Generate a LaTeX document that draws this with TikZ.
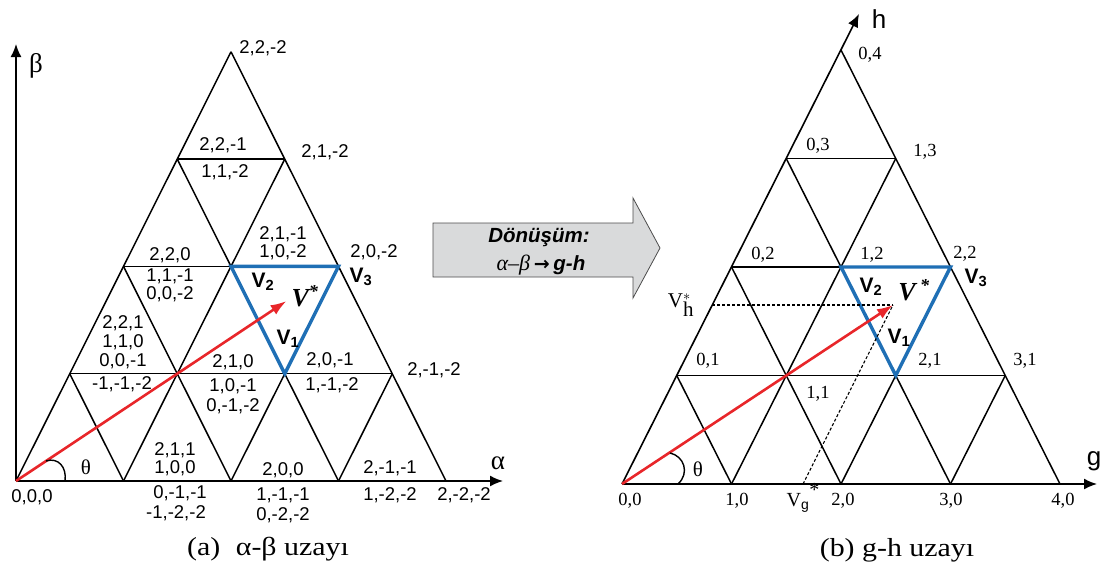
\documentclass[tikz,border=0pt]{standalone}
\usepackage{fontspec}
\setmainfont{Liberation Serif}
\newfontfamily\lsans{Liberation Sans}
\newfontfamily\capfont[FakeStretch=1.15]{Liberation Serif}
\newfontfamily\arrfont{DejaVu Sans}
\usetikzlibrary{arrows.meta}
\definecolor{vblue}{RGB}{31,111,181}
\definecolor{vred}{RGB}{232,38,42}
\definecolor{boxgray}{RGB}{217,218,219}
\tikzset{
  grid/.style={line width=1.5pt, black},
  axisline/.style={line width=1.6pt, black, -{Latex[length=13pt,width=11pt]}},
  lab/.style={font=\lsans\fontsize{18.5}{18.5}\selectfont, inner sep=0pt},
  rlab/.style={font=\fontsize{18.5}{18.5}\selectfont, inner sep=0pt},
  vlab/.style={font=\lsans\bfseries\fontsize{21}{21}\selectfont, inner sep=0pt},
  vstar/.style={font=\bfseries\itshape\fontsize{26}{26}\selectfont, inner sep=0pt},
  greek/.style={font=\fontsize{27}{27}\selectfont, inner sep=0pt},
  axlab/.style={font=\lsans\fontsize{26}{26}\selectfont, inner sep=0pt},
  thlab/.style={font=\fontsize{21}{21}\selectfont, inner sep=0pt},
  caption/.style={font=\capfont\fontsize{26}{26}\selectfont, inner sep=0pt},
  redarrow/.style={vred, line width=2.6pt, -{Latex[length=16pt,width=11pt]}},
  bluetri/.style={vblue, line width=3.4pt, line join=miter},
  proj/.style={line width=1.1pt, dash pattern=on 3pt off 2pt},
}
\begin{document}
\begin{tikzpicture}[x=1pt,y=-1pt]
\useasboundingbox (0,0) rectangle (1102,563);
% lattice points
\foreach \j in {0,...,4}{
  \pgfmathtruncatemacro\k{4-\j}
  \foreach \i in {0,...,\k}{
    \coordinate (L\i\j) at ({16+107.5*(\i+\j/2)},{481-107.3*\j});
    \coordinate (R\i\j) at ({622+109.5*(\i+\j/2)},{484-108.5*\j});
  }
}
% ---------- left: alpha-beta ----------
\coordinate (aEnd) at (503,481);
\coordinate (bEnd) at (16,44);
\draw[axisline] (L00) -- (aEnd);
\draw[axisline] (L00) -- (bEnd);
\foreach \j in {1,2,3}{\pgfmathtruncatemacro\k{4-\j}\draw[grid] (L0\j) -- (L\k\j);}
\foreach \i in {0,...,3}{\pgfmathtruncatemacro\k{4-\i}\draw[grid] (L\i0) -- (L\i\k);}
\foreach \i in {1,...,4}{\draw[grid] (L\i0) -- (L0\i);}
\draw[bluetri] (L12) -- (L22) -- (L21) -- cycle;
\coordinate (VtL) at (286.5,301);
\draw[redarrow] (L00) -- (VtL);
\draw[line width=1.4pt] (65,481) .. controls (67,467) and (58,457) .. (46,461);
\node[thlab] (thL) at (86,467) {θ};
\node[greek] (beta) at (36,66) {β};
\node[greek] (alpha) at (498,463) {α};
\node[vlab] (V2L) at (263,282) {V\textsubscript{2}};
\node[vlab] (V3L) at (361,277) {V\textsubscript{3}};
\node[vlab] (V1L) at (288,339) {V\textsubscript{1}};
\node[vstar] (VsL) at (305,296) {V\textsuperscript{*}};
\node[lab] (a1) at (263,48) {2,2,-2};
\node[lab] (a2) at (223,145) {2,2,-1};
\node[lab] (a3) at (225,172) {1,1,-2};
\node[lab] (a4) at (325,152) {2,1,-2};
\node[lab] (a5) at (283,234) {2,1,-1};
\node[lab] (a6) at (283,252) {1,0,-2};
\node[lab] (a7) at (374,252) {2,0,-2};
\node[lab] (a8) at (170,255) {2,2,0};
\node[lab] (a9) at (170,276) {1,1,-1};
\node[lab] (a10) at (170,294) {0,0,-2};
\node[lab] (a11) at (123,323) {2,2,1};
\node[lab] (a12) at (123,342) {1,1,0};
\node[lab] (a13) at (123,361) {0,0,-1};
\node[lab] (a14) at (122,384) {-1,-1,-2};
\node[lab] (a15) at (233,362) {2,1,0};
\node[lab] (a16) at (233,386) {1,0,-1};
\node[lab] (a17) at (233,406) {0,-1,-2};
\node[lab] (a18) at (330,360) {2,0,-1};
\node[lab] (a19) at (332,385) {1,-1,-2};
\node[lab] (a20) at (434,370) {2,-1,-2};
\node[lab] (a21) at (175,450) {2,1,1};
\node[lab] (a22) at (175,468) {1,0,0};
\node[lab] (a23) at (180,493) {0,-1,-1};
\node[lab] (a24) at (176,513) {-1,-2,-2};
\node[lab] (a25) at (283,470) {2,0,0};
\node[lab] (a26) at (283,495) {1,-1,-1};
\node[lab] (a27) at (283,515) {0,-2,-2};
\node[lab] (a28) at (390,468) {2,-1,-1};
\node[lab] (a29) at (390,495) {1,-2,-2};
\node[lab] (a30) at (464,495) {2,-2,-2};
\node[lab] (a31) at (32,497) {0,0,0};
\node[caption] (capA) at (268,549) {(a)\hspace{0.6em}α-β uzayı};
% ---------- transformation arrow ----------
\draw[fill=boxgray, draw=black!70, line width=0.8pt]
  (433,223) -- (633,223) -- (633,198) -- (660,248) -- (633,298) -- (633,277) -- (433,277) -- cycle;
\node[font=\lsans\bfseries\itshape\fontsize{20.5}{20.5}\selectfont, inner sep=0pt] (tr1) at (539,238) {Dönüşüm:};
\node[font=\fontsize{22}{22}\selectfont, inner sep=0pt] (tr2) at (541,265)
  {\textit{α–β}\,{\arrfont\bfseries\fontsize{19}{19}\selectfont →}\,{\lsans\bfseries\itshape\fontsize{20.5}{20.5}\selectfont g-h}};
% ---------- right: g-h ----------
\coordinate (gEnd) at (1097,484);
\coordinate (hEnd) at (859,14);
\draw[axisline] (R00) -- (gEnd);
\draw[axisline] (R00) -- (hEnd);
\foreach \j in {1,2,3}{\pgfmathtruncatemacro\k{4-\j}\draw[grid] (R0\j) -- (R\k\j);}
\foreach \i in {1,...,3}{\pgfmathtruncatemacro\k{4-\i}\draw[grid] (R\i0) -- (R\i\k);}
\foreach \i in {1,...,4}{\draw[grid] (R\i0) -- (R0\i);}
\draw[bluetri] (R12) -- (R22) -- (R21) -- cycle;
\coordinate (VtR) at (893,305);
\coordinate (Vh0) at (712,305);
\coordinate (Vg0) at (803,484);
\draw[proj] (Vh0) -- (VtR);
\draw[proj] (Vg0) -- (VtR);
\draw[redarrow] (R00) -- (VtR);
\draw[line width=1.4pt] (678,484) .. controls (690,473) and (684,456) .. (670,453);
\node[thlab] (thR) at (698,469) {θ};
\node[axlab] (hlab) at (879,19) {h};
\node[axlab] (glab) at (1094,461) {g};
\node[vlab] (V2R) at (871,287) {V\textsubscript{2}};
\node[vlab] (V3R) at (976,278) {V\textsubscript{3}};
\node[vlab] (V1R) at (899,338) {V\textsubscript{1}};
\node[vstar] (VsR) at (914,290) {V\,\textsuperscript{*}};
\node[rlab] (b1) at (870,55) {0,4};
\node[rlab] (b2) at (818,146) {0,3};
\node[rlab] (b3) at (925,152) {1,3};
\node[rlab] (b4) at (763,255) {0,2};
\node[rlab] (b5) at (872,255) {1,2};
\node[rlab] (b6) at (965,254) {2,2};
\node[rlab] (b7) at (708,361) {0,1};
\node[rlab] (b8) at (930,361) {2,1};
\node[rlab] (b9) at (1025,361) {3,1};
\node[rlab] (b10) at (818,394) {1,1};
\node[rlab] (b11) at (737,501) {1,0};
\node[rlab] (b12) at (843,501) {2,0};
\node[rlab] (b13) at (951,501) {3,0};
\node[rlab] (b14) at (1063,501) {4,0};
\node[rlab] (b15) at (630,501) {0,0};
\node[rlab, font=\fontsize{21}{21}\selectfont] (vh) at (681,305) {V$_{\textrm{h}}^{*}$};
\node[rlab, font=\fontsize{20}{20}\selectfont] (vg) at (803,498) {V\textsubscript{\lsans g}\raisebox{1.0ex}{*}};
\node[caption] (capB) at (897,550) {(b) g-h uzayı};
\end{tikzpicture}
\end{document}
